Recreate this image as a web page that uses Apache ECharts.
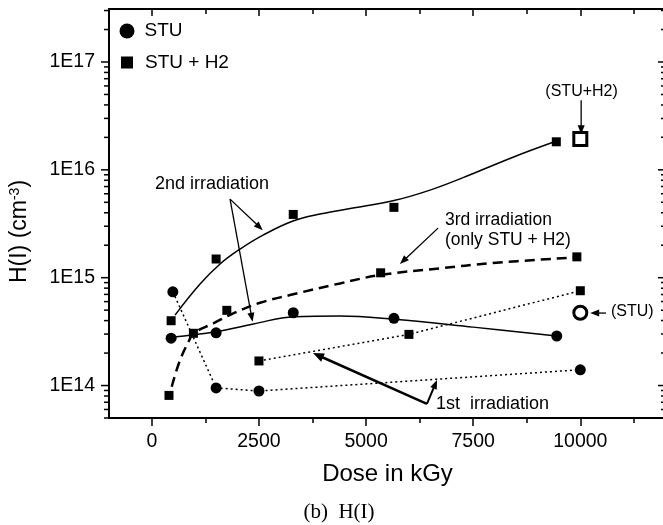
<!DOCTYPE html>
<html><head><meta charset="utf-8">
<script src="https://cdn.jsdelivr.net/npm/echarts@6/dist/echarts.min.js"></script>
<style>html,body{margin:0;padding:0;background:#fff}#c{width:663px;height:525px}</style>
</head><body><div id="c"></div>
<script>
// ---- axis ranges & ticks ----
const xMin = -1000, xMax = 12000;
const yMin = 5e13, yMax = 3.1e17;
const xTicks = [0, 2500, 5000, 7500, 10000];
const xMinorTicks = [1250, 3750, 6250, 8750, 11250];
const yDecades = [13, 14, 15, 16, 17];
const yMinorMultipliers = [2, 3, 4, 5, 6, 7, 8, 9];

// ---- data (Dose kGy, H(I) cm^-3) ----
const stu1st   = [[490, 7.4e14], [1500, 9.5e13], [2500, 8.9e13], [10000, 1.4e14]];
const stu2nd   = [[450, 2.75e14], [1500, 3.08e14], [3300, 4.73e14], [5650, 4.2e14], [9450, 2.88e14]];
const h2_1st   = [[2500, 1.69e14], [6000, 2.98e14], [10000, 7.57e14]];
const h2_2nd   = [[450, 3.99e14], [1500, 1.49e15], [3300, 3.86e15], [5650, 4.49e15], [9440, 1.82e16]];
const h2_3rd   = [[400, 8.1e13], [970, 3.05e14], [1750, 4.98e14], [5340, 1.11e15], [9920, 1.56e15]];
const stuLater = [[10000, 4.73e14]];
const h2Later  = [[10000, 1.93e16]];

// fitted curves
const stu2ndFit = [[450, 2.80e14], [1490, 3.15e14], [2370, 3.72e14], [3320, 4.35e14], [4390, 4.41e14], [5660, 4.11e14], [7500, 3.48e14], [9450, 2.88e14]];
const h2_2ndFit = [[541, 4.5e14], [1125, 8.73e14], [1592, 1.34e15], [2058, 1.84e15], [2595, 2.48e15], [3295, 3.35e15], [3925, 3.89e15], [4693, 4.42e15], [5652, 5.19e15], [6492, 6.49e15], [7263, 8.47e15], [8430, 1.31e16], [9363, 1.80e16]];
const h2_3rdFit = [[464, 9.75e13], [658, 1.72e14], [875, 2.64e14], [968, 3.05e14], [1435, 3.77e14], [1900, 4.67e14], [2525, 5.85e14], [3225, 6.9e14], [4390, 8.85e14], [5340, 1.06e15], [6730, 1.22e15], [7890, 1.36e15], [9840, 1.54e15]];

// ---- annotations ----
const annotArrows = [
  {from: [1825, 5.35e15], to: [2588, 2.76e15], w: 1.3},
  {from: [1825, 5.35e15], to: [2350, 3.9e14], w: 1.3},
  {from: [6680, 2.88e15], to: [5790, 1.34e15], w: 1.3},
  {from: [6420, 6.75e13], to: [3760, 2.0e14], w: 2.5},
  {from: [6420, 6.75e13], to: [6656, 1.125e14], w: 2.0},
  {from: [10020, 4.43e16], to: [10020, 2.14e16], w: 1.3},
  {from: [10600, 4.7e14], to: [10230, 4.7e14], w: 1.3}
];
const annotTexts = [
  {text: '2nd irradiation', x: 75, y: 7.36e15, align: 'left', size: 18},
  {text: '3rd irradiation', x: 6840, y: 3.42e15, align: 'left', size: 17.5},
  {text: '(only STU + H2)', x: 6840, y: 2.25e15, align: 'left', size: 17.5},
  {text: '1st  irradiation', x: 6630, y: 6.75e13, align: 'left', size: 18},
  {text: '(STU+H2)', x: 10030, y: 5.36e16, align: 'center', size: 16},
  {text: '(STU)', x: 10717, y: 4.8e14, align: 'left', size: 16}
];

const FONT = 'Liberation Sans, Arial, Helvetica, sans-serif';

// y tick positions (log)
const yTickData = [];
yDecades.forEach(e => {
  const major = Math.pow(10, e);
  if (major >= yMin && major <= yMax) yTickData.push([xMin, major, 1]);
  yMinorMultipliers.forEach(m => {
    const v = m * Math.pow(10, e);
    if (v >= yMin && v <= yMax) yTickData.push([xMin, v, 0]);
  });
});

const chart = echarts.init(document.getElementById('c'), null, {renderer: 'canvas'});

const dotted = {color: '#000', width: 1.5, type: [2, 3], opacity: 1};
const solid = {color: '#000', width: 1.5, type: 'solid', opacity: 1};
const dashed = {color: '#000', width: 2.5, type: [10, 6], opacity: 1};
const black = {color: '#000', opacity: 1, borderWidth: 0};
const openStyle = {color: '#fff', borderColor: '#000', borderWidth: 3, opacity: 1};

function tickRender(params, api) {
  const v = api.value(1);
  const major = api.value(2) === 1;
  const pL = api.coord([xMin, v]);
  const pR = api.coord([xMax, v]);
  const len = major ? 8 : 5;
  return {type: 'group', children: [
    {type: 'line', shape: {x1: pL[0] - len, y1: pL[1], x2: pL[0], y2: pL[1]}, style: {stroke: '#000', lineWidth: 1.5}},
    {type: 'line', shape: {x1: pR[0] - len, y1: pR[1], x2: pR[0], y2: pR[1]}, style: {stroke: '#000', lineWidth: 1.5}}
  ]};
}

function arrowRender(params, api) {
  const a = annotArrows[params.dataIndex];
  const p1 = api.coord(a.from);
  const p2 = api.coord(a.to);
  const dx = p2[0] - p1[0], dy = p2[1] - p1[1];
  const L = Math.hypot(dx, dy);
  const ux = dx / L, uy = dy / L;
  const hl = a.w > 2 ? 11 : 9, hw = a.w > 2 ? 4.5 : 3.5;
  const bx = p2[0] - ux * hl, by = p2[1] - uy * hl;
  return {type: 'group', children: [
    {type: 'line', shape: {x1: p1[0], y1: p1[1], x2: bx + ux * 2, y2: by + uy * 2}, style: {stroke: '#000', lineWidth: a.w}},
    {type: 'polygon', shape: {points: [[p2[0], p2[1]], [bx - uy * hw, by + ux * hw], [bx + uy * hw, by - ux * hw]]}, style: {fill: '#000'}}
  ]};
}

function textRender(params, api) {
  const t = annotTexts[params.dataIndex];
  const p = api.coord([t.x, t.y]);
  return {type: 'text', x: p[0], y: p[1], style: {text: t.text, fill: '#000', fontSize: t.size, fontFamily: FONT, align: t.align, verticalAlign: 'middle'}};
}

const option = {
  animation: false,
  backgroundColor: '#fff',
  grid: {left: 109, top: 9, width: 557, height: 409, containLabel: false, outerBoundsMode: 'none'},
  legend: [
    {data: [{name: 'STU', icon: 'circle'}], left: 119.5, top: 21.5, padding: 0, itemWidth: 15, itemHeight: 15, selectedMode: false,
     itemStyle: {color: '#000', opacity: 1},
     textStyle: {fontSize: 19, fontFamily: FONT, color: '#000', padding: [0, 0, 0, 5]}},
    {data: [{name: 'STU + H2', icon: 'rect'}], left: 121, top: 53, padding: 0, itemWidth: 12, itemHeight: 12, selectedMode: false,
     itemStyle: {color: '#000', opacity: 1},
     textStyle: {fontSize: 19, fontFamily: FONT, color: '#000', padding: [0, 0, 0, 7]}}
  ],
  xAxis: [
    {type: 'value', position: 'bottom', min: xMin, max: xMax, splitLine: {show: false},
     axisLine: {show: true, onZero: false, lineStyle: {color: '#000', width: 2}},
     axisTick: {show: true, inside: false, length: 8, customValues: xTicks, lineStyle: {color: '#000', width: 1.5}},
     axisLabel: {show: true, customValues: xTicks, margin: 14, fontSize: 19.5, fontFamily: FONT, color: '#000',
       formatter: v => String(v)},
     name: 'Dose in kGy', nameLocation: 'middle', nameGap: 44,
     nameTextStyle: {fontSize: 24, fontFamily: FONT, color: '#000'}},
    {type: 'value', position: 'bottom', min: xMin, max: xMax, splitLine: {show: false},
     axisLine: {show: false, onZero: false},
     axisTick: {show: true, inside: false, length: 5, customValues: xMinorTicks, lineStyle: {color: '#000', width: 1.5}},
     axisLabel: {show: false}},
    {type: 'value', position: 'top', min: xMin, max: xMax, splitLine: {show: false},
     axisLine: {show: true, onZero: false, lineStyle: {color: '#000', width: 2}},
     axisTick: {show: true, inside: true, length: 7, customValues: xTicks, lineStyle: {color: '#000', width: 1.5}},
     axisLabel: {show: false}},
    {type: 'value', position: 'top', min: xMin, max: xMax, splitLine: {show: false},
     axisLine: {show: false, onZero: false},
     axisTick: {show: true, inside: true, length: 5, customValues: xMinorTicks, lineStyle: {color: '#000', width: 1.5}},
     axisLabel: {show: false}}
  ],
  yAxis: [
    {type: 'log', logBase: 10, position: 'left', min: yMin, max: yMax, splitLine: {show: false},
     axisLine: {show: true, onZero: false, lineStyle: {color: '#000', width: 2}},
     axisTick: {show: false},
     axisLabel: {show: true, margin: 14, fontSize: 19.5, fontFamily: FONT, color: '#000',
       formatter: v => {
         const e = Math.log10(v);
         const r = Math.round(e);
         return Math.abs(e - r) < 1e-6 ? '1E' + r : '';
       }},
     name: 'H(I) (cm{sup|-3})', nameLocation: 'middle', nameGap: 78, nameRotate: 90,
     nameTextStyle: {fontSize: 23, fontFamily: FONT, color: '#000', padding: [0, 36, 0, 0],
       rich: {sup: {fontSize: 14, fontFamily: FONT, color: '#000', verticalAlign: 'top', padding: [0, 0, 9, 0]}}}},
    {type: 'log', logBase: 10, position: 'right', min: yMin, max: yMax, splitLine: {show: false},
     axisLine: {show: true, onZero: false, lineStyle: {color: '#000', width: 2}},
     axisTick: {show: false}, axisLabel: {show: false}}
  ],
  graphic: [
    {type: 'text', x: 339, y: 512,
     style: {text: '(b)  H(I)', fontSize: 21, fontFamily: 'Liberation Serif, Times New Roman, serif', fill: '#000', align: 'center', verticalAlign: 'middle'}}
  ],
  series: [
    {name: 'STU', type: 'scatter', data: stu2nd, symbol: 'circle', symbolSize: 11, itemStyle: black, z: 5},
    {name: 'STU + H2', type: 'scatter', data: h2_2nd, symbol: 'rect', symbolSize: 9, itemStyle: black, z: 5},
    {name: 'STU', type: 'line', data: stu1st, symbol: 'circle', symbolSize: 11, itemStyle: black, lineStyle: dotted, z: 4},
    {name: 'STU + H2', type: 'line', data: h2_1st, symbol: 'rect', symbolSize: 9, itemStyle: black, lineStyle: dotted, z: 4},
    {name: 'STU + H2', type: 'scatter', data: h2_3rd, symbol: 'rect', symbolSize: 9, itemStyle: black, z: 5},
    {name: 'fit STU 2nd', type: 'line', data: stu2ndFit, smooth: 0.4, showSymbol: false, lineStyle: solid, z: 3},
    {name: 'fit STU+H2 2nd', type: 'line', data: h2_2ndFit, smooth: 0.4, showSymbol: false, lineStyle: solid, z: 3},
    {name: 'fit STU+H2 3rd', type: 'line', data: h2_3rdFit, smooth: 0.4, showSymbol: false, lineStyle: dashed, z: 3},
    {name: 'STU later', type: 'scatter', data: stuLater, symbol: 'circle', symbolSize: 13, itemStyle: openStyle, z: 6},
    {name: 'STU+H2 later', type: 'scatter', data: h2Later, symbol: 'rect', symbolSize: 13, itemStyle: openStyle, z: 6},
    {name: 'yticks', type: 'custom', coordinateSystem: 'cartesian2d', clip: false, silent: true,
     encode: {x: 0, y: 1}, renderItem: tickRender, data: yTickData, z: 2},
    {name: 'arrows', type: 'custom', coordinateSystem: 'cartesian2d', clip: false, silent: true,
     encode: {x: 0, y: 1}, renderItem: arrowRender, data: annotArrows.map(a => [a.from[0], a.from[1]]), z: 7},
    {name: 'texts', type: 'custom', coordinateSystem: 'cartesian2d', clip: false, silent: true,
     encode: {x: 0, y: 1}, renderItem: textRender, data: annotTexts.map(t => [t.x, t.y]), z: 7}
  ]
};
chart.setOption(option);
</script>
</body></html>
